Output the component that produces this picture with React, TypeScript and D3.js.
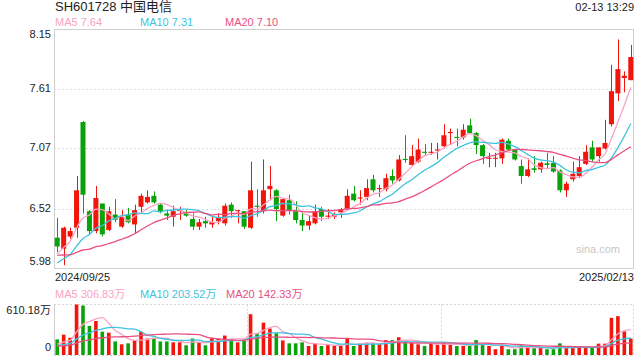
import React from "react";
import * as d3 from "d3";

const title = "SH601728 中国电信";
const timeLabel = "02-13 13:29";
const startDate = "2024/09/25";
const endDate = "2025/02/13";
const yTicks = [8.15, 7.61, 7.07, 6.52, 5.98];
const volMax = 610.18;
const priceLegend = ["MA5 7.64", "MA10 7.31", "MA20 7.10"];
const volLegend = ["MA5 306.83万", "MA10 203.52万", "MA20 142.33万"];

const opens = [6.26, 6.16, 6.27, 6.35, 7.31, 6.5, 6.32, 6.57, 6.33, 6.47, 6.36, 6.47, 6.38, 6.54, 6.58, 6.64, 6.56, 6.48, 6.45, 6.505, 6.48, 6.43, 6.36, 6.41, 6.38, 6.41, 6.39, 6.56, 6.5, 6.5, 6.35, 6.55, 6.5, 6.7, 6.69, 6.46, 6.6, 6.5, 6.42, 6.37, 6.39, 6.52, 6.45, 6.45, 6.49, 6.52, 6.66, 6.615, 6.63, 6.79, 6.7, 6.7, 6.82, 6.78, 6.975, 6.92, 6.95, 7.04, 7.03, 7.05, 7.09, 7.21, 7.175, 7.17, 7.28, 7.21, 7.1, 6.98, 6.98, 6.98, 7.14, 7.06, 6.91, 6.82, 6.89, 6.88, 6.935, 6.94, 6.87, 6.69, 6.79, 6.82, 6.93, 7.08, 7.0, 7.07, 7.29, 7.57, 7.71, 7.69];
const highs = [6.44, 6.36, 6.35, 6.82, 7.32, 6.51, 6.73, 6.57, 6.54, 6.61, 6.51, 6.53, 6.56, 6.66, 6.69, 6.68, 6.57, 6.51, 6.55, 6.54, 6.51, 6.48, 6.43, 6.45, 6.45, 6.48, 6.57, 6.58, 6.51, 6.5, 6.95, 6.7, 6.97, 6.91, 6.7, 6.62, 6.65, 6.59, 6.5, 6.46, 6.56, 6.54, 6.52, 6.49, 6.53, 6.7, 6.73, 6.69, 6.79, 6.83, 6.74, 6.84, 6.88, 7.01, 7.19, 7.1, 7.16, 7.11, 7.12, 7.12, 7.29, 7.25, 7.25, 7.29, 7.34, 7.22, 7.11, 7.03, 7.03, 7.16, 7.16, 7.06, 6.97, 6.98, 7.0, 6.95, 7.03, 7.0, 6.88, 6.77, 6.95, 7.0, 7.1, 7.14, 7.08, 7.33, 7.83, 8.06, 7.77, 8.01];
const lows = [6.13, 6.01, 6.25, 6.26, 6.48, 6.29, 6.3, 6.27, 6.32, 6.4, 6.35, 6.39, 6.3, 6.48, 6.57, 6.57, 6.48, 6.42, 6.36, 6.42, 6.45, 6.33, 6.33, 6.35, 6.35, 6.38, 6.37, 6.44, 6.39, 6.34, 6.34, 6.45, 6.48, 6.6, 6.41, 6.45, 6.47, 6.39, 6.32, 6.33, 6.38, 6.41, 6.43, 6.43, 6.44, 6.51, 6.59, 6.56, 6.6, 6.67, 6.63, 6.68, 6.75, 6.77, 6.94, 6.91, 6.94, 7.01, 7.01, 6.97, 7.07, 7.1, 7.09, 7.15, 7.21, 7.02, 6.93, 6.9, 6.9, 6.93, 7.05, 6.96, 6.75, 6.81, 6.85, 6.85, 6.89, 6.85, 6.67, 6.63, 6.77, 6.8, 6.92, 6.95, 6.95, 7.06, 7.27, 7.5, 7.58, 7.69];
const closes = [6.18, 6.35, 6.32, 6.69, 6.65, 6.32, 6.62, 6.29, 6.5, 6.42, 6.45, 6.4, 6.51, 6.64, 6.63, 6.58, 6.5, 6.46, 6.5, 6.51, 6.46, 6.36, 6.4, 6.39, 6.4, 6.44, 6.55, 6.5, 6.51, 6.36, 6.69, 6.54, 6.69, 6.73, 6.52, 6.61, 6.51, 6.42, 6.37, 6.41, 6.5, 6.45, 6.46, 6.47, 6.52, 6.64, 6.6, 6.625, 6.71, 6.69, 6.71, 6.8, 6.78, 6.97, 6.965, 7.0, 7.06, 7.03, 7.04, 7.06, 7.19, 7.22, 7.165, 7.24, 7.21, 7.1, 7.0, 6.985, 6.985, 7.15, 7.06, 6.97, 6.82, 6.88, 6.875, 6.94, 6.92, 6.86, 6.69, 6.75, 6.84, 6.9, 7.04, 6.97, 7.08, 7.12, 7.59, 7.79, 7.73, 7.9];
const volumes = [188, 246, 208, 610.18, 598, 352, 411, 282, 270, 164, 129, 141, 180, 282, 199, 208, 164, 164, 153, 153, 117, 199, 153, 117, 208, 196, 235, 196, 153, 188, 493, 266, 391, 320, 262, 176, 141, 141, 153, 109, 141, 109, 121, 109, 109, 196, 109, 137, 149, 141, 137, 180, 180, 215, 180, 149, 129, 109, 144, 121, 149, 121, 109, 109, 109, 180, 121, 109, 70, 117, 70, 70, 117, 90, 86, 86, 70, 70, 141, 86, 86, 97, 97, 97, 137, 137, 449, 469, 285, 199];
// sessions before the first visible bar (only feed the moving averages)
const priorCloses = [6.3, 6.28, 6.25, 6.22, 6.18, 6.15, 6.12, 6.1, 6.07, 6.03, 5.96, 5.94, 5.93, 5.95, 5.96, 6.05, 6.05, 6.08, 6.2];
const priorVolumes = [95, 100, 90, 105, 98, 92, 88, 96, 102, 110, 94, 90, 99, 104, 97, 108, 112, 105, 140];

const RED = "#f2150c";
const GREEN = "#0aa20a";
const MA_COLORS = ["#f9a3c4", "#3ec3e0", "#ea4f82"];
const FONT = "'Liberation Sans', Arial, 'Noto Sans CJK SC', sans-serif";

function sma(values: number[], prior: number[], n: number): number[] {
  const all = prior.concat(values);
  const off = prior.length;
  return values.map((_, i) => d3.mean(all.slice(Math.max(0, off + i - n + 1), off + i + 1)) as number);
}

export default function App() {
  const L = 54, R = 634, T = 29.5, B = 268.5;
  const VT = 304.5, VB = 355;
  const n = closes.length;
  const idx = d3.range(n);
  const x = d3.scaleBand<number>().domain(idx).range([L, R]).paddingInner(0.22).paddingOuter(0.11);
  const cx = (i: number) => (x(i) as number) + x.bandwidth() / 2;
  const y = d3.scaleLinear().domain([yTicks[yTicks.length - 1], yTicks[0]]).range([B, T]);
  const vy = d3.scaleLinear().domain([0, volMax]).range([VB, VT]);

  const maPeriods = [5, 10, 20];
  const priceMAs = maPeriods.map((p) => sma(closes, priorCloses, p));
  const volMAs = maPeriods.map((p) => sma(volumes, priorVolumes, p));
  const pLine = d3.line<number>().x((_, i) => cx(i)).y((d) => y(d)).curve(d3.curveMonotoneX);
  const vLine = d3.line<number>().x((_, i) => cx(i)).y((d) => vy(d)).curve(d3.curveMonotoneX);

  const bw = x.bandwidth();
  const vbw = 3.6;
  const legendX = [55, 140, 225];

  return (
    <svg width={640} height={360} style={{ position: "absolute", left: 0, top: 0, background: "#fff" }} fontFamily={FONT}>
      <defs>
        <clipPath id="mainClip"><rect x={L} y={T} width={R - L} height={B - T} /></clipPath>
        <clipPath id="volClip"><rect x={L} y={VT - 2} width={R - L} height={VB - VT + 2} /></clipPath>
      </defs>
      <text x={55} y={8} fontSize={13} fill="#222" dominantBaseline="middle">{title}</text>
      <text x={634} y={8} fontSize={11} fill="#222" textAnchor="end" dominantBaseline="middle">{timeLabel}</text>
      {priceLegend.map((t, k) => (
        <text key={t} x={legendX[k]} y={23.5} fontSize={11} fill={MA_COLORS[k]} dominantBaseline="middle">{t}</text>
      ))}
      {/* main panel */}
      {yTicks.slice(1, -1).map((t) => (
        <line key={t} x1={L} x2={R} y1={Math.round(y(t)) + 0.5} y2={Math.round(y(t)) + 0.5} stroke="#dcdcdc" strokeDasharray="2,2" />
      ))}
      <rect x={L + 0.5} y={T} width={R - L - 1} height={B - T} fill="none" stroke="#cfcfcf" />
      {yTicks.map((t, k) => (
        <text key={t} x={51} y={y(t) + (k === 0 ? 6 : k === yTicks.length - 1 ? -6 : 0)} fontSize={11} fill="#222" textAnchor="end" dominantBaseline="middle">{t.toFixed(2)}</text>
      ))}
      <text x={620} y={250} fontSize={11} fill="#c8c8c8" textAnchor="end" dominantBaseline="middle">sina.com</text>
      <g clipPath="url(#mainClip)">
        {idx.map((i) => {
          const up = closes[i] >= opens[i];
          const col = up ? RED : GREEN;
          const top = y(Math.max(opens[i], closes[i]));
          const bot = y(Math.min(opens[i], closes[i]));
          const c = Math.round(cx(i)) + 0.5;
          return (
            <g key={i}>
              <line x1={c} x2={c} y1={y(highs[i])} y2={y(lows[i])} stroke={col} strokeWidth={1} />
              <rect x={cx(i) - bw / 2} y={top} width={bw} height={Math.max(1, bot - top)} fill={col} />
            </g>
          );
        })}
        {priceMAs.map((m, k) => (
          <path key={k} d={pLine(m) as string} fill="none" stroke={MA_COLORS[k]} strokeWidth={1.3} />
        ))}
      </g>
      <text x={55} y={278} fontSize={11} fill="#222" dominantBaseline="middle">{startDate}</text>
      <text x={634} y={278} fontSize={11} fill="#222" textAnchor="end" dominantBaseline="middle">{endDate}</text>
      {/* volume panel */}
      {volLegend.map((t, k) => (
        <text key={t} x={legendX[k] + (k === 2 ? 1 : 0)} y={295} fontSize={11} fill={MA_COLORS[k]} dominantBaseline="middle">{t}</text>
      ))}
      <line x1={L} x2={R} y1={VT} y2={VT} stroke="#d6d6d6" strokeDasharray="2,2" />
      <line x1={L} x2={R} y1={VB + 0.5} y2={VB + 0.5} stroke="#d6d6d6" strokeDasharray="2,2" />
      <line x1={R - 0.5} x2={R - 0.5} y1={VT} y2={VB} stroke="#d6d6d6" strokeDasharray="2,2" />
      {[30, 60].map((b) => {
        const xx = Math.round((x(b) as number) - (x.step() * x.paddingInner()) / 2) + 0.5;
        return <line key={b} x1={xx} x2={xx} y1={VT} y2={VB} stroke="#d6d6d6" strokeDasharray="2,2" />;
      })}
      <line x1={L + 0.5} x2={L + 0.5} y1={VT} y2={VB} stroke="#cfcfcf" />
      <text x={51} y={vy(volMax) + 7} fontSize={11} fill="#222" textAnchor="end" dominantBaseline="middle">{volMax.toFixed(2)}万</text>
      <text x={51} y={vy(0) - 7} fontSize={11} fill="#222" textAnchor="end" dominantBaseline="middle">0</text>
      <g clipPath="url(#volClip)">
        {idx.map((i) => {
          const up = closes[i] >= opens[i];
          return (
            <rect key={i} x={cx(i) - vbw / 2} y={vy(volumes[i])} width={vbw} height={VB - vy(volumes[i])} fill={up ? RED : GREEN} />
          );
        })}
        {volMAs.map((m, k) => (
          <path key={k} d={vLine(m) as string} fill="none" stroke={MA_COLORS[k]} strokeWidth={1.3} />
        ))}
      </g>
    </svg>
  );
}
